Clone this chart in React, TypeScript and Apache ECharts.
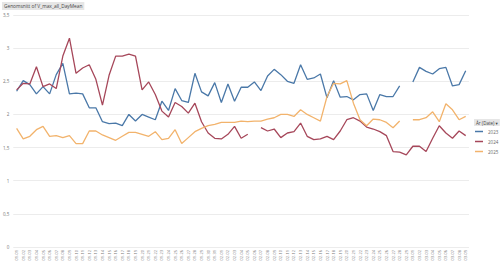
import React, { useEffect, useRef } from "react";
import * as echarts from "echarts";

const dates: string[] = [];
const monthDays: [string, number][] = [["01", 31], ["02", 29], ["03", 9]];
for (const [m, n] of monthDays) {
  for (let d = 1; d <= n; d++) dates.push(`${m}-${String(d).padStart(2, "0")}`);
}

const seriesNames = ["2023", "2024", "2025"];

const values2023: (number | null)[] = [
  2.35, 2.51, 2.45, 2.31, 2.42, 2.31, 2.6, 2.77, 2.31, 2.32,
  2.31, 2.1, 2.1, 1.89, 1.86, 1.87, 1.83, 2.0, 1.9, 2.0,
  1.96, 1.92, 2.2, 2.06, 2.39, 2.21, 2.18, 2.62, 2.34, 2.28,
  2.48, 2.18, 2.46, 2.2, 2.41, 2.41, 2.49, 2.36, 2.58, 2.68,
  2.6, 2.5, 2.47, 2.75, 2.53, 2.55, 2.61, 2.25, 2.51, 2.26,
  2.27, 2.22, 2.3, 2.31, 2.06, 2.3, 2.27, 2.27, 2.43, null,
  2.49, 2.71, 2.65, 2.61, 2.69, 2.71, 2.43, 2.45, 2.66,
];

const values2024: (number | null)[] = [
  2.37, 2.47, 2.46, 2.72, 2.42, 2.46, 2.39, 2.88, 3.15, 2.62,
  2.7, 2.75, 2.53, 2.14, 2.59, 2.88, 2.88, 2.91, 2.88, 2.37,
  2.49, 2.3, 2.05, 1.96, 2.18, 2.12, 2.02, 2.17, 1.89, 1.72,
  1.64, 1.63, 1.7, 1.82, 1.64, 1.7, null, 1.8, 1.75, 1.78,
  1.65, 1.72, 1.74, 1.87, 1.67, 1.62, 1.63, 1.67, 1.62, 1.75,
  1.92, 1.95, 1.9, 1.81, 1.78, 1.74, 1.68, 1.44, 1.43, 1.39,
  1.52, 1.52, 1.44, 1.64, 1.83, 1.72, 1.64, 1.75, 1.68,
];

const values2025: (number | null)[] = [
  1.79, 1.63, 1.67, 1.77, 1.82, 1.67, 1.68, 1.65, 1.68, 1.56,
  1.56, 1.75, 1.75, 1.69, 1.65, 1.61, 1.67, 1.73, 1.73, 1.7,
  1.67, 1.74, 1.62, 1.64, 1.77, 1.56, 1.65, 1.74, 1.79, 1.83,
  1.85, 1.88, 1.88, 1.88, 1.9, 1.89, 1.9, 1.9, 1.93, 1.95,
  2.0, 2.0, 1.97, 2.07, 2.0, 1.95, 1.9, 2.27, 2.47, 2.46,
  2.51, 2.17, 1.92, 1.83, 1.93, 1.92, 1.88, 1.8, 1.9, null,
  1.92, 1.92, 1.95, 2.04, 1.89, 2.16, 2.07, 1.92, 1.97,
];

const colors = ["#4a78a8", "#a6475a", "#f2b36c"];
const titleText = "Genomsnitt of V_max_all_DayMean";
const legendTitle = "År (Date) ▾";

export default function App() {
  const ref = useRef<HTMLDivElement>(null);
  useEffect(() => {
    document.body.style.margin = "0";
    if (!ref.current) return;
    const chart = echarts.init(ref.current, undefined, { renderer: "svg" });
    const all = [values2023, values2024, values2025];
    chart.setOption({
      animation: false,
      textStyle: { fontFamily: "Open Sans, DejaVu Sans, sans-serif" },
      grid: { left: 11, right: 31, top: 15, bottom: 18, containLabel: false },
      xAxis: {
        type: "category",
        data: dates,
        boundaryGap: true,
        axisLine: { show: false },
        axisTick: { show: false },
        axisLabel: {
          interval: 0,
          rotate: 90,
          fontSize: 4,
          color: "#777",
          margin: 3,
        },
      },
      yAxis: {
        type: "value",
        min: 0,
        max: 3.5,
        interval: 0.5,
        axisLine: { show: false },
        axisTick: { show: false },
        axisLabel: {
          fontSize: 4.5,
          color: "#777",
          margin: 4,
          formatter: (v: number) => String(v).replace(".", ","),
        },
        splitLine: { lineStyle: { color: "#ececec", width: 1 } },
      },
      legend: {
        orient: "vertical",
        left: 475,
        top: 129,
        padding: 0,
        itemWidth: 8,
        itemHeight: 1.5,
        itemGap: 5,
        icon: "rect",
        textStyle: { fontSize: 4.5, color: "#666" },
        data: seriesNames,
      },
      graphic: [
        {
          type: "text",
          left: 2,
          top: 2,
          style: {
            text: titleText,
            fontSize: 4.8,
            fill: "#444",
            backgroundColor: "#e6e6e6",
            padding: [1.5, 2, 1.5, 2],
            fontFamily: "Open Sans, DejaVu Sans, sans-serif",
          },
        },
        {
          type: "text",
          left: 474,
          top: 119,
          style: {
            text: legendTitle,
            fontSize: 4.5,
            fill: "#444",
            backgroundColor: "#e6e6e6",
            padding: [1, 2, 1, 2],
            fontFamily: "Open Sans, DejaVu Sans, sans-serif",
          },
        },
      ],
      series: seriesNames.map((name, k) => ({
        name,
        type: "line",
        data: all[k],
        connectNulls: false,
        showSymbol: false,
        symbol: "none",
        lineStyle: { width: 1.3, color: colors[k] },
        itemStyle: { color: colors[k] },
      })),
    });
    return () => chart.dispose();
  }, []);
  return <div ref={ref} style={{ width: 500, height: 265 }} />;
}
